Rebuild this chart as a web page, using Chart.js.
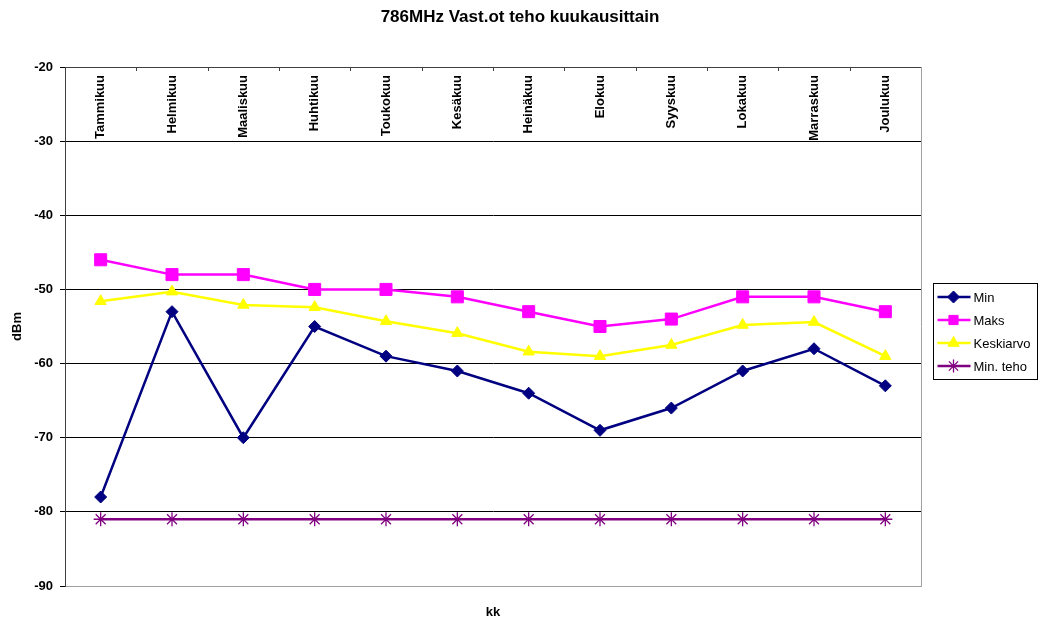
<!DOCTYPE html>
<html>
<head>
<meta charset="utf-8">
<script src="https://cdn.jsdelivr.net/npm/chart.js@4.4.0/dist/chart.umd.min.js"></script>
<style>
  html, body { margin: 0; padding: 0; background: #fff; }
  #wrap { width: 1040px; height: 621px; }
</style>
</head>
<body>
<div id="wrap"><canvas id="chart"></canvas></div>
<script>
const months = ['Tammikuu', 'Helmikuu', 'Maaliskuu', 'Huhtikuu', 'Toukokuu', 'Kesäkuu',
  'Heinäkuu', 'Elokuu', 'Syyskuu', 'Lokakuu', 'Marraskuu', 'Joulukuu'];
const minValues = [-78, -53, -70, -55, -59, -61, -64, -69, -66, -61, -58, -63];
const maxValues = [-46, -48, -48, -50, -50, -51, -53, -55, -54, -51, -51, -53];
const avgValues = [-51.6, -50.3, -52.1, -52.4, -54.3, -55.9, -58.4, -59.0, -57.5, -54.8, -54.4, -59.0];
const minPower = [-81, -81, -81, -81, -81, -81, -81, -81, -81, -81, -81, -81];
const yMin = -90;
const yMax = -20;
const yStep = 10;

const FONT = '"Liberation Sans", Arial, sans-serif';

function series(label, data, color, style, radius) {
  return {
    label,
    data,
    borderColor: color,
    backgroundColor: color,
    borderWidth: 2.5,
    pointStyle: style,
    pointRadius: radius,
    pointHoverRadius: radius,
    pointBorderWidth: style === 'star' ? 1.3 : 1,
    tension: 0,
  };
}

// month names standing inside the plot, under the top edge
const monthLabels = {
  id: 'monthLabels',
  beforeDatasetsDraw(chart) {
    const { ctx, chartArea, scales: { x } } = chart;
    const half = (x.getPixelForValue(1) - x.getPixelForValue(0)) / 2;
    ctx.save();
    // small tick marks between the months on the top edge
    ctx.strokeStyle = '#404040';
    ctx.lineWidth = 1;
    ctx.beginPath();
    for (let i = 1; i < months.length; i++) {
      const px = Math.round(x.getPixelForValue(i) - half) + 0.5;
      ctx.moveTo(px, chartArea.top);
      ctx.lineTo(px, chartArea.top + 4);
    }
    ctx.stroke();
    // right frame edge
    ctx.strokeStyle = '#a0a0a0';
    ctx.beginPath();
    ctx.moveTo(Math.round(chartArea.right) + 0.5, chartArea.top);
    ctx.lineTo(Math.round(chartArea.right) + 0.5, chartArea.bottom);
    ctx.stroke();

    ctx.fillStyle = '#000';
    ctx.font = 'bold 13px ' + FONT;
    ctx.textAlign = 'right';
    ctx.textBaseline = 'middle';
    months.forEach((m, i) => {
      ctx.save();
      ctx.translate(x.getPixelForValue(i), chartArea.top + 8);
      ctx.rotate(-Math.PI / 2);
      ctx.fillText(m, 0, 0);
      ctx.restore();
    });
    ctx.restore();
  },
};

// boxed legend with line + marker samples on the right
const boxLegend = {
  id: 'boxLegend',
  afterDraw(chart) {
    const { ctx, chartArea } = chart;
    const sets = chart.data.datasets;
    const rowH = 23;
    const w = 104;
    const h = rowH * sets.length + 4;
    const left = Math.round(chartArea.right + 12) + 0.5;
    const top = Math.round((chartArea.top + chartArea.bottom) / 2 - h / 2 + 4) + 0.5;
    ctx.save();
    ctx.strokeStyle = '#000';
    ctx.lineWidth = 1;
    ctx.strokeRect(left, top, w, h);
    ctx.font = '13px ' + FONT;
    ctx.textBaseline = 'middle';
    ctx.textAlign = 'left';
    sets.forEach((ds, i) => {
      const cy = top + 2 + rowH * (i + 0.5);
      ctx.strokeStyle = ds.borderColor;
      ctx.fillStyle = ds.backgroundColor;
      ctx.lineWidth = ds.borderWidth;
      ctx.beginPath();
      ctx.moveTo(left + 4, cy);
      ctx.lineTo(left + 37, cy);
      ctx.stroke();
      ctx.lineWidth = ds.pointBorderWidth;
      Chart.helpers.drawPoint(ctx, {
        pointStyle: ds.pointStyle,
        rotation: 0,
        radius: Math.min(ds.pointRadius, 6.5),
        borderWidth: ds.pointBorderWidth,
      }, left + 20, cy);
      ctx.fillStyle = '#000';
      ctx.fillText(ds.label, left + 40, cy + 1);
    });
    ctx.restore();
  },
};

new Chart(document.getElementById('chart'), {
  type: 'line',
  data: {
    labels: months,
    datasets: [
      series('Min', minValues, '#000080', 'rectRot', 6),
      series('Maks', maxValues, '#ff00ff', 'rect', 8.5),
      series('Keskiarvo', avgValues, '#ffff00', 'triangle', 6.5),
      series('Min. teho', minPower, '#800080', 'star', 7),
    ],
  },
  options: {
    responsive: true,
    maintainAspectRatio: false,
    animation: false,
    layout: { padding: 0 },
    plugins: {
      legend: { display: false },
      tooltip: { enabled: false },
      title: {
        display: true,
        text: '786MHz Vast.ot teho kuukausittain',
        color: '#000',
        font: { family: FONT, size: 17, weight: 'bold' },
        padding: { top: 7, bottom: 39.6 },
      },
    },
    scales: {
      x: {
        type: 'category',
        position: 'bottom',
        offset: true,
        grid: { display: false },
        border: { display: true, color: '#a0a0a0', width: 1 },
        ticks: { display: false },
        title: {
          display: true,
          text: 'kk',
          color: '#000',
          font: { family: FONT, size: 13, weight: 'bold' },
          padding: { top: 18, bottom: 1 },
        },
        afterFit(scale) { scale.height = 35; },
      },
      y: {
        min: yMin,
        max: yMax,
        ticks: {
          stepSize: yStep,
          color: '#000',
          padding: 7,
          font: { family: FONT, size: 13, weight: 'bold' },
        },
        grid: {
          color: (c) => (c.tick && (c.tick.value === yMin) ? '#a0a0a0' : (c.tick && c.tick.value === yMax ? '#404040' : '#000')),
          tickColor: '#000',
          tickLength: 5,
          lineWidth: 1,
        },
        border: { display: true, color: '#404040', width: 1 },
        title: {
          display: true,
          text: 'dBm',
          color: '#000',
          font: { family: FONT, size: 13, weight: 'bold' },
          padding: { top: 10, bottom: 0 },
        },
        afterFit(scale) { scale.width = 65; },
      },
      // empty right-hand strip that keeps room for the legend box
      legendSpace: {
        type: 'linear',
        position: 'right',
        display: true,
        grid: { display: false },
        border: { display: false },
        ticks: { display: false },
        afterFit(scale) { scale.width = 119; },
      },
    },
  },
  plugins: [monthLabels, boxLegend],
});
</script>
</body>
</html>
